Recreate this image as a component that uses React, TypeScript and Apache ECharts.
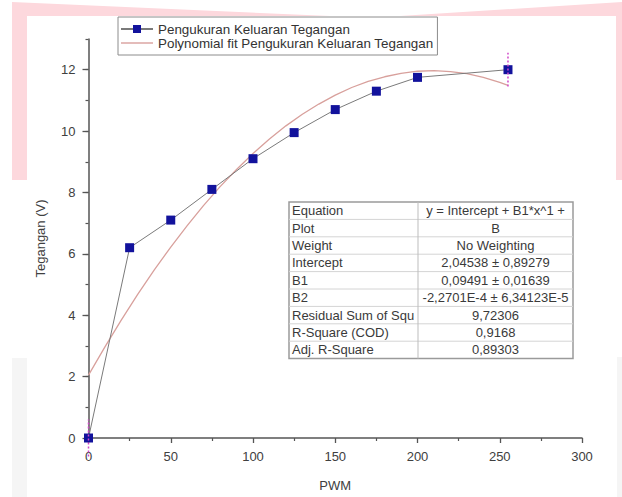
import React, { useEffect, useRef } from "react";
import * as echarts from "echarts";

const pwm = [0, 25, 50, 75, 100, 125, 150, 175, 200, 255];
const tegangan = [0, 6.2, 7.1, 8.1, 9.1, 9.95, 10.7, 11.3, 11.75, 12.0];

const fitX = [0, 10, 20, 30, 40, 50, 60, 70, 80, 90, 100, 110, 120, 130, 140, 150, 160, 170, 180, 190, 200, 210, 220, 230, 240, 250, 255];
const fitY = [2.05, 2.97, 3.85, 4.69, 5.48, 6.22, 6.92, 7.58, 8.19, 8.75, 9.27, 9.74, 10.17, 10.55, 10.88, 11.17, 11.42, 11.62, 11.77, 11.88, 11.95, 11.97, 11.94, 11.87, 11.75, 11.59, 11.49];

const errX = [0, 255];
const errY = [0, 12.0];
const errSize = [0.6, 0.55];

const xTicks = [0, 50, 100, 150, 200, 250, 300];
const yTicks = [0, 2, 4, 6, 8, 10, 12];

const seriesNames = ["Pengukuran Keluaran Tegangan", "Polynomial fit Pengukuran Keluaran Tegangan"];

const tableLabels = ["Equation", "Plot", "Weight", "Intercept", "B1", "B2", "Residual Sum of Squ", "R-Square (COD)", "Adj. R-Square"];
const tableValues = ["y = Intercept + B1*x^1 +", "B", "No Weighting", "2,04538 ± 0,89279", "0,09491 ± 0,01639", "-2,2701E-4 ± 6,34123E-5", "9,72306", "0,9168", "0,89303"];

const FONT = "'Liberation Sans', Arial, sans-serif";

export default function App() {
  const ref = useRef<HTMLDivElement>(null);
  useEffect(() => {
    if (!ref.current) return;
    const chart = echarts.init(ref.current, null, { renderer: "svg" });

    const tL = 289, tT = 202, tW = 284, rowH = 17.4, divX = 418;
    const tableChildren: any[] = [];
    tableChildren.push({ type: "rect", shape: { x: tL, y: tT, width: tW, height: rowH * tableLabels.length }, style: { fill: "#fff", stroke: "#9a9a9a", lineWidth: 1.5 } });
    for (let i = 1; i < tableLabels.length; i++) {
      tableChildren.push({ type: "line", shape: { x1: tL, y1: tT + i * rowH, x2: tL + tW, y2: tT + i * rowH }, style: { stroke: "#d4d4d4", lineWidth: 1 } });
    }
    tableChildren.push({ type: "line", shape: { x1: divX, y1: tT, x2: divX, y2: tT + rowH * tableLabels.length }, style: { stroke: "#bdbdbd", lineWidth: 1 } });
    tableLabels.forEach((lab, i) => {
      tableChildren.push({ type: "text", x: tL + 3, y: tT + i * rowH + rowH / 2, style: { text: lab, font: `13px ${FONT}`, fill: "#3a3a3a", textAlign: "left", textVerticalAlign: "middle" } });
    });
    tableValues.forEach((v, i) => {
      tableChildren.push({ type: "text", x: (divX + tL + tW) / 2, y: tT + i * rowH + rowH / 2, style: { text: v, font: `13px ${FONT}`, fill: "#3a3a3a", textAlign: "center", textVerticalAlign: "middle" } });
    });

    const pink = "#fdd8dd";
    const option: any = {
      animation: false,
      backgroundColor: "#ffffff",
      graphic: [
        {
          type: "polygon",
          z: -10,
          silent: true,
          shape: { points: [[12, 2], [330, 16], [400, 16], [622, 2], [622, 180], [616, 180], [616, 16], [27, 16], [27, 180], [12, 180]] },
          style: { fill: pink },
        },
        { type: "rect", z: -10, silent: true, shape: { x: 12, y: 358, width: 15, height: 139 }, style: { fill: "#f5f5f5" } },
        { type: "rect", z: -10, silent: true, shape: { x: 617, y: 357, width: 5, height: 140 }, style: { fill: "#f5f5f5" } },
        { type: "group", z: 100, children: tableChildren },
      ],
      grid: { left: 88.5, right: 40, top: 39, bottom: 58, containLabel: false },
      legend: {
        orient: "vertical",
        left: 118,
        top: 17,
        data: [{ name: seriesNames[0] }, { name: seriesNames[1], icon: "path://M0,0 L32,0 L32,1.4 L0,1.4 Z" }],
        itemWidth: 32,
        itemHeight: 10,
        itemGap: 0,
        padding: [5, 4, 5, 2],
        borderColor: "#8c8c8c",
        borderWidth: 1,
        backgroundColor: "#fff",
        textStyle: { fontSize: 13.4, lineHeight: 14, color: "#333", fontFamily: FONT },
      },
      xAxis: {
        type: "value",
        min: 0,
        max: 300,
        interval: 50,
        name: "PWM",
        nameLocation: "middle",
        nameGap: 41,
        nameTextStyle: { fontSize: 13, color: "#404040", fontFamily: FONT },
        axisLine: { show: true, onZero: false, lineStyle: { color: "#555", width: 1.5 } },
        axisTick: { show: true, length: 5, lineStyle: { color: "#555", width: 1.3 } },
        minorTick: { show: true, splitNumber: 2, length: 3, lineStyle: { color: "#555", width: 1.2 } },
        splitLine: { show: false },
        axisLabel: { margin: 12, fontSize: 13, color: "#404040", fontFamily: FONT, customValues: xTicks },
      },
      yAxis: [
        {
          type: "value",
          min: 0,
          max: 13,
          interval: 1,
          name: "Tegangan (V)",
          nameLocation: "middle",
          nameGap: 42,
          nameTextStyle: { fontSize: 13, color: "#404040", fontFamily: FONT },
          axisLine: { show: true, onZero: false, lineStyle: { color: "#555", width: 1.5 } },
          axisTick: { show: true, length: 6, customValues: yTicks, lineStyle: { color: "#555", width: 1.3 } },
          splitLine: { show: false },
          axisLabel: { margin: 13, fontSize: 13, color: "#404040", fontFamily: FONT, customValues: yTicks },
        },
        {
          type: "value",
          min: 0,
          max: 13,
          interval: 1,
          position: "left",
          axisLine: { show: false },
          axisTick: { show: true, length: 3, lineStyle: { color: "#555", width: 1.2 } },
          axisLabel: { show: false },
          splitLine: { show: false },
        },
      ],
      series: [
        {
          name: seriesNames[1],
          type: "line",
          data: fitX.map((x, i) => [x, fitY[i]]),
          symbol: "none",
          lineStyle: { color: "#d8a09c", width: 1.3 },
          itemStyle: { color: "#d8a09c" },
          z: 3,
        },
        {
          name: seriesNames[0],
          type: "line",
          data: pwm.map((x, i) => [x, tegangan[i]]),
          symbol: "rect",
          symbolSize: 9,
          lineStyle: { color: "#7a7a7a", width: 1 },
          itemStyle: { color: "#12129c" },
          z: 4,
        },
        {
          name: "err",
          type: "custom",
          clip: false,
          data: errX.map((x, i) => [x, errY[i] - errSize[i], errY[i] + errSize[i]]),
          encode: { x: 0, y: [1, 2] },
          renderItem: (params: any, api: any) => {
            const x = api.value(0);
            const p1 = api.coord([x, api.value(1)]);
            const p2 = api.coord([x, api.value(2)]);
            return {
              type: "line",
              shape: { x1: p1[0], y1: p1[1], x2: p2[0], y2: p2[1] },
              style: { stroke: "#d048c8", lineWidth: 1.5, lineDash: [2, 2] },
            };
          },
          z: 5,
        },
      ],
    };
    chart.setOption(option);
    return () => chart.dispose();
  }, []);
  return <div ref={ref} style={{ position: "absolute", left: 0, top: 0, width: 622, height: 497 }} />;
}
